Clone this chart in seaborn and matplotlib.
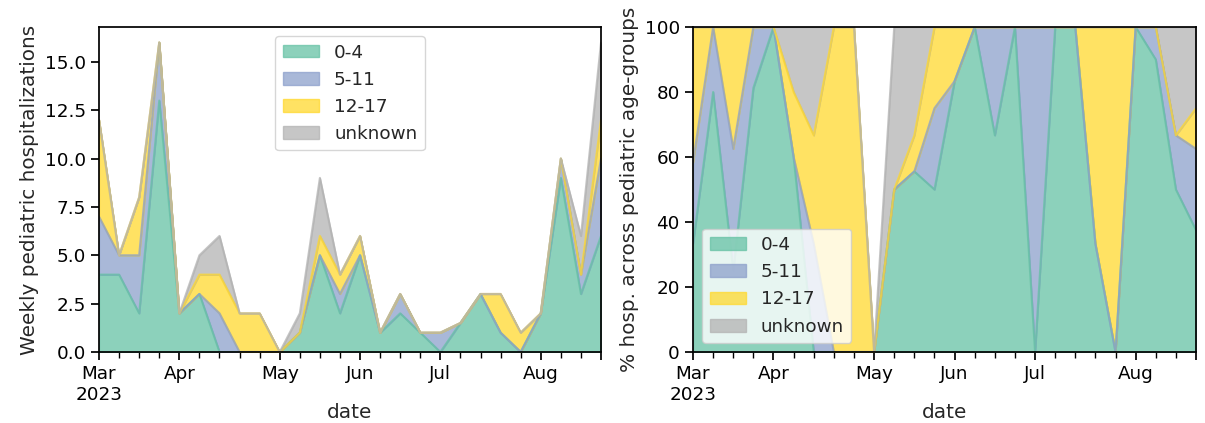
import numpy as np
import pandas as pd
import matplotlib
matplotlib.use("Agg")
import matplotlib.pyplot as plt
import seaborn as sns

# ---- data (weekly, 26 weeks starting week ending 2023-03-04) ----
first_week = "2023-03-04"
n_weeks = 26
age_groups = ["0-4", "5-11", "12-17", "unknown"]
hosp_0_4 = [4, 4, 2, 13, 2, 3, 0, 0, 0, 0, 1, 5, 2, 5, 1, 2, 1, 0, 1.5, 3, 1, 0, 2, 9, 3, 6]
hosp_5_11 = [3, 1, 3, 3, 0, 0, 2, 0, 0, 0, 0, 0, 1, 0, 0, 1, 0, 1, 0, 0, 0, 0, 0, 1, 1, 4]
hosp_12_17 = [5, 0, 3, 0, 0, 1, 2, 2, 2, 0, 0, 1, 1, 1, 0, 0, 0, 0, 0, 0, 2, 1, 0, 0, 0, 2]
hosp_unknown = [0, 0, 0, 0, 0, 1, 2, 0, 0, 0, 1, 3, 0, 0, 0, 0, 0, 0, 0, 0, 0, 0, 0, 0, 2, 4]

colors = ["#66c2a5", "#8da0cb", "#ffd92f", "#b3b3b3"]

sns.set_theme(style="ticks", context="notebook", font_scale=1.2)
plt.rcParams["font.family"] = ["DejaVu Sans"]
plt.rcParams["axes.edgecolor"] = "black"
plt.rcParams["xtick.color"] = "black"
plt.rcParams["ytick.color"] = "black"

dates = pd.date_range(first_week, periods=n_weeks, freq="W-SAT")
counts = pd.DataFrame(
    dict(zip(age_groups, [hosp_0_4, hosp_5_11, hosp_12_17, hosp_unknown])),
    index=dates,
)
counts.index.name = "date"
pct = counts.div(counts.sum(axis=1), axis=0) * 100

fig, axes = plt.subplots(1, 2, figsize=(12.05, 4.23), dpi=100)

counts.plot.area(ax=axes[0], color=colors, alpha=0.75, legend=False)
axes[0].set_ylabel("Weekly pediatric hospitalizations")
axes[0].set_xlabel("date", labelpad=-1)
axes[0].legend(loc="upper center")

pct.plot.area(ax=axes[1], color=colors, alpha=0.75, legend=False)
axes[1].set_ylim(0, 100)
axes[1].set_ylabel("% hosp. across pediatric age-groups")
axes[1].set_xlabel("date", labelpad=-1)
axes[1].legend(loc="lower left")

W, H = 1205, 423
axes[0].set_position([99 / W, 71 / H, 502 / W, 325 / H])
axes[1].set_position([693 / W, 71 / H, 503 / W, 325 / H])

fig.savefig("out.png", dpi=100)
